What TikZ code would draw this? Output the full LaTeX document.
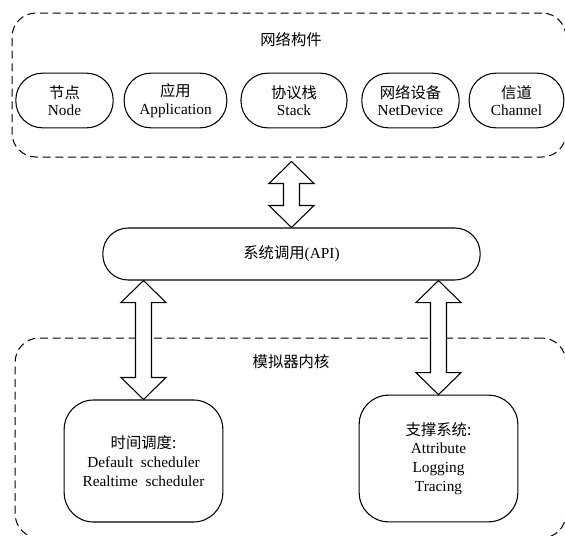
\documentclass[tikz,border=0pt]{standalone}
\usepackage{fontspec}
\setmainfont{Liberation Serif}
\newfontfamily\cjk{Noto Sans CJK SC}
\usetikzlibrary{calc}
\newcommand{\dblarrow}[2] {
  \draw[fill=white,line width=0.8pt] let \p1=(#1), \p2=(#2) in
	(\x1,\y1) -- (\x1-16.9pt,\y1-16.5pt) -- (\x1-6pt,\y1-16.5pt) -- (\x1-6pt,\y2+16.5pt) -- (\x1-16.9pt,\y2+16.5pt) -- (\x1,\y2)
	-- (\x1+16.9pt,\y2+16.5pt) -- (\x1+6pt,\y2+16.5pt) -- (\x1+6pt,\y1-16.5pt) -- (\x1+16.9pt,\y1-16.5pt) -- cycle;}

\begin{document}
\begin{tikzpicture}[x=0.75pt,y=-0.75pt,
	group/.style={draw,dash pattern=on 6pt off 3.5pt,line width=0.75pt,rounded corners=18pt},
	comp/.style={draw,line width=0.8pt,rounded corners=20pt,minimum height=41pt,align=center,inner sep=1pt,font=\fontsize{11.5}{13}\selectfont},
	core/.style={draw,line width=0.8pt,rounded corners=22pt,minimum width=119pt,align=center,font=\fontsize{11.5}{14}\selectfont},
	title/.style={font=\fontsize{11.5}{14}\selectfont\cjk}]
					\useasboundingbox (0,0) rectangle (565,536);
					%NETWORK PART
					\node[group,minimum width=415.5pt,minimum height=108pt] (net) at (289,85) {};
					\node[title] (nettitle) at (291,40) {网络构件};
					\node[comp,minimum width=73pt] (node) at (64.5,100.5) {{\cjk 节点}\\Node};
					\node[comp,minimum width=77pt] (app) at (175.5,100.5) {{\cjk 应用}\\Application};
					\node[comp,minimum width=79.5pt] (stack) at (294,100.5) {{\cjk 协议栈}\\Stack};
					\node[comp,minimum width=73pt] (dev) at (410.5,100.5) {{\cjk 网络设备}\\NetDevice};
					\node[comp,minimum width=71pt] (chan) at (516.5,100.5) {{\cjk 信道}\\Channel};
					%API
					\node[draw,line width=0.8pt,rounded corners=19pt,minimum width=283pt,minimum height=39pt,font=\fontsize{11.5}{14}\selectfont] (api) at (291.5,254) {{\cjk 系统调用}(API)};
					%CORE
					\node[group,minimum width=413pt,minimum height=150pt] (kern) at (290.5,438) {};
					\node[title] (kerntitle) at (291,362) {模拟器内核};
					\node[core,minimum height=91.5pt] (sched) at (143.5,461) {{\cjk 时间调度:}\\Default\ \ scheduler\\Realtime\ \ scheduler};
					\node[core,minimum height=95pt] (supp) at (438.5,458.5) {{\cjk 支撑系统:}\\Attribute\\Logging\\Tracing};
					%ARROWS
					\coordinate (nettip) at ($(api.north |- net.south)+(0,4)$);
					\dblarrow{nettip}{api.north}
					\dblarrow{api.south -| sched.north}{sched.north}
					\dblarrow{api.south -| supp.north}{supp.north}
\end{tikzpicture}
\end{document}
